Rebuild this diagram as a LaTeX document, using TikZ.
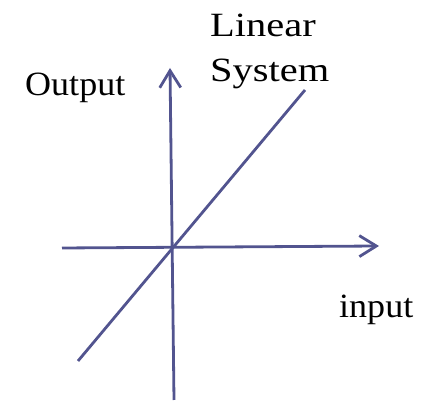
\documentclass[tikz,border=0pt]{standalone}
\usepackage{fontspec}
\setmainfont{Liberation Serif}
\newfontfamily\axfont[FakeStretch=1.06]{Liberation Serif}
\newfontfamily\ttlfont[FakeStretch=1.19]{Liberation Serif}
\usetikzlibrary{arrows.meta}
\definecolor{axiscol}{RGB}{82,84,143}
\begin{document}
\begin{tikzpicture}[x=1pt,y=1pt,
  axis/.style={draw=axiscol,line width=2.8pt},
  arr/.style={axis,-{Straight Barb[length=17pt,width=21pt,line width=2.8pt]}},
  lbl/.style={inner sep=0pt,font=\axfont\fontsize{34}{45}\selectfont},
  ttl/.style={inner sep=0pt,font=\ttlfont\fontsize{34}{45}\selectfont}]
\useasboundingbox (0,0) rectangle (426,403);
\coordinate (vb) at (174,3);
\coordinate (vt) at (170,335);
\coordinate (hl) at (62,155);
\coordinate (hr) at (379,157);
\coordinate (dl) at (78,42);
\coordinate (dr) at (305,313);
\draw[arr] (vb) -- (vt);
\draw[arr] (hl) -- (hr);
\draw[axis] (dl) -- (dr);
\node[lbl,anchor=base west] (out) at (25,307) {Output};
\node[lbl,anchor=base west] (inp) at (339,85) {input};
\node[ttl,anchor=base west] (lin) at (210,366) {Linear};
\node[ttl,anchor=base west] (sys) at (210,321) {System};
\end{tikzpicture}
\end{document}
